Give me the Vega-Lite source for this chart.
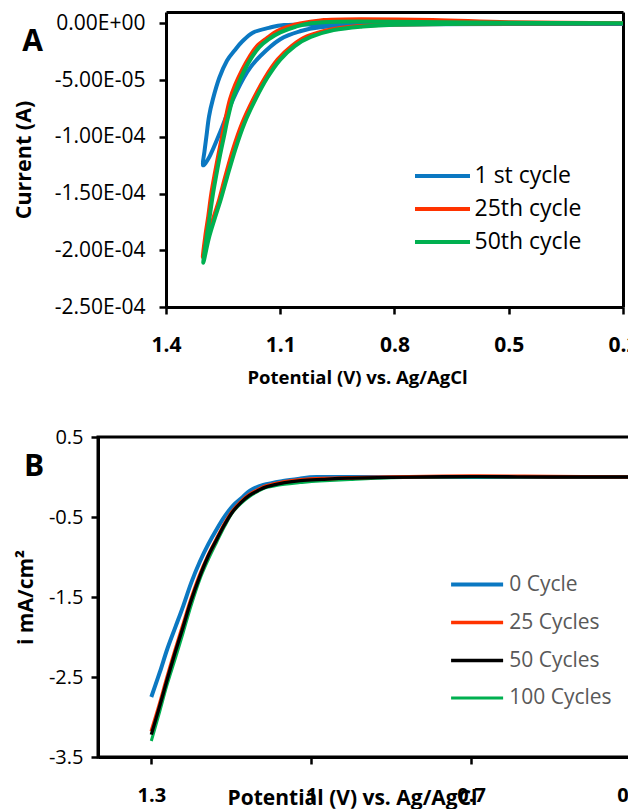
{
  "$schema": "https://vega.github.io/schema/vega-lite/v6.json",
  "background": "white",
  "padding": {"left": 13, "top": 12, "right": 0, "bottom": 0},
  "config": {
    "view": {"stroke": "black", "strokeWidth": 3},
    "axis": {"grid": false, "domainColor": "black", "domainWidth": 3, "tickColor": "black", "tickWidth": 2.5, "tickSize": 7, "labelColor": "black", "titleColor": "black", "labelFont": "Open Sans", "titleFont": "Open Sans", "labelFlush": false, "labelOverlap": false, "labelBound": false},
    "legend": {"labelFont": "Open Sans", "padding": 0}
  },
  "datasets": {
    "A": [
      {"s": "1 st cycle", "k": 1, "v": 0.2, "c": -5e-7},
      {"s": "1 st cycle", "k": 2, "v": 0.5, "c": -5e-7},
      {"s": "1 st cycle", "k": 3, "v": 0.8, "c": -6e-7},
      {"s": "1 st cycle", "k": 4, "v": 1.0, "c": -9e-7},
      {"s": "1 st cycle", "k": 5, "v": 1.09, "c": -1.5e-6},
      {"s": "1 st cycle", "k": 6, "v": 1.13, "c": -4e-6},
      {"s": "1 st cycle", "k": 7, "v": 1.171, "c": -8e-6},
      {"s": "1 st cycle", "k": 8, "v": 1.2, "c": -1.6e-5},
      {"s": "1 st cycle", "k": 9, "v": 1.22, "c": -2.4e-5},
      {"s": "1 st cycle", "k": 10, "v": 1.24, "c": -3.3e-5},
      {"s": "1 st cycle", "k": 11, "v": 1.26, "c": -4.8e-5},
      {"s": "1 st cycle", "k": 12, "v": 1.277, "c": -6.7e-5},
      {"s": "1 st cycle", "k": 13, "v": 1.287, "c": -8.2e-5},
      {"s": "1 st cycle", "k": 14, "v": 1.294, "c": -1.0e-4},
      {"s": "1 st cycle", "k": 15, "v": 1.299, "c": -1.13e-4},
      {"s": "1 st cycle", "k": 16, "v": 1.303, "c": -1.25e-4},
      {"s": "1 st cycle", "k": 17, "v": 1.285, "c": -1.17e-4},
      {"s": "1 st cycle", "k": 18, "v": 1.258, "c": -9.6e-5},
      {"s": "1 st cycle", "k": 19, "v": 1.224, "c": -6.7e-5},
      {"s": "1 st cycle", "k": 20, "v": 1.187, "c": -4.3e-5},
      {"s": "1 st cycle", "k": 21, "v": 1.153, "c": -2.9e-5},
      {"s": "1 st cycle", "k": 22, "v": 1.1, "c": -1.4e-5},
      {"s": "1 st cycle", "k": 23, "v": 1.048, "c": -7e-6},
      {"s": "1 st cycle", "k": 24, "v": 0.995, "c": -3.5e-6},
      {"s": "1 st cycle", "k": 25, "v": 0.9, "c": -1.5e-6},
      {"s": "1 st cycle", "k": 26, "v": 0.7, "c": -8e-7},
      {"s": "1 st cycle", "k": 27, "v": 0.2, "c": -5e-7},
      {"s": "25th cycle", "k": 1, "v": 0.2, "c": 0},
      {"s": "25th cycle", "k": 2, "v": 0.5, "c": 1e-6},
      {"s": "25th cycle", "k": 3, "v": 0.7, "c": 3e-6},
      {"s": "25th cycle", "k": 4, "v": 0.935, "c": 3.5e-6},
      {"s": "25th cycle", "k": 5, "v": 0.995, "c": 2.6e-6},
      {"s": "25th cycle", "k": 6, "v": 1.048, "c": 0},
      {"s": "25th cycle", "k": 7, "v": 1.08, "c": -3e-6},
      {"s": "25th cycle", "k": 8, "v": 1.109, "c": -7e-6},
      {"s": "25th cycle", "k": 9, "v": 1.135, "c": -1.3e-5},
      {"s": "25th cycle", "k": 10, "v": 1.161, "c": -2.0e-5},
      {"s": "25th cycle", "k": 11, "v": 1.18, "c": -2.9e-5},
      {"s": "25th cycle", "k": 12, "v": 1.2, "c": -4.1e-5},
      {"s": "25th cycle", "k": 13, "v": 1.218, "c": -5.4e-5},
      {"s": "25th cycle", "k": 14, "v": 1.232, "c": -6.7e-5},
      {"s": "25th cycle", "k": 15, "v": 1.243, "c": -8.3e-5},
      {"s": "25th cycle", "k": 16, "v": 1.253, "c": -1.0e-4},
      {"s": "25th cycle", "k": 17, "v": 1.262, "c": -1.15e-4},
      {"s": "25th cycle", "k": 18, "v": 1.271, "c": -1.31e-4},
      {"s": "25th cycle", "k": 19, "v": 1.281, "c": -1.5e-4},
      {"s": "25th cycle", "k": 20, "v": 1.289, "c": -1.7e-4},
      {"s": "25th cycle", "k": 21, "v": 1.297, "c": -1.88e-4},
      {"s": "25th cycle", "k": 22, "v": 1.303, "c": -2.06e-4},
      {"s": "25th cycle", "k": 23, "v": 1.29, "c": -1.88e-4},
      {"s": "25th cycle", "k": 24, "v": 1.276, "c": -1.72e-4},
      {"s": "25th cycle", "k": 25, "v": 1.26, "c": -1.55e-4},
      {"s": "25th cycle", "k": 26, "v": 1.245, "c": -1.36e-4},
      {"s": "25th cycle", "k": 27, "v": 1.224, "c": -1.11e-4},
      {"s": "25th cycle", "k": 28, "v": 1.2, "c": -8.8e-5},
      {"s": "25th cycle", "k": 29, "v": 1.171, "c": -6.7e-5},
      {"s": "25th cycle", "k": 30, "v": 1.14, "c": -4.8e-5},
      {"s": "25th cycle", "k": 31, "v": 1.107, "c": -3.2e-5},
      {"s": "25th cycle", "k": 32, "v": 1.07, "c": -2.0e-5},
      {"s": "25th cycle", "k": 33, "v": 1.03, "c": -1.15e-5},
      {"s": "25th cycle", "k": 34, "v": 0.97, "c": -5.5e-6},
      {"s": "25th cycle", "k": 35, "v": 0.9, "c": -2.5e-6},
      {"s": "25th cycle", "k": 36, "v": 0.8, "c": -1e-6},
      {"s": "25th cycle", "k": 37, "v": 0.6, "c": -3e-7},
      {"s": "25th cycle", "k": 38, "v": 0.2, "c": 0},
      {"s": "50th cycle", "k": 1, "v": 0.2, "c": 0},
      {"s": "50th cycle", "k": 2, "v": 0.5, "c": 5e-7},
      {"s": "50th cycle", "k": 3, "v": 0.8, "c": 1.5e-6},
      {"s": "50th cycle", "k": 4, "v": 0.95, "c": 1.5e-6},
      {"s": "50th cycle", "k": 5, "v": 1.02, "c": 0},
      {"s": "50th cycle", "k": 6, "v": 1.06, "c": -3e-6},
      {"s": "50th cycle", "k": 7, "v": 1.1, "c": -8e-6},
      {"s": "50th cycle", "k": 8, "v": 1.13, "c": -1.4e-5},
      {"s": "50th cycle", "k": 9, "v": 1.155, "c": -2.1e-5},
      {"s": "50th cycle", "k": 10, "v": 1.175, "c": -3.0e-5},
      {"s": "50th cycle", "k": 11, "v": 1.195, "c": -4.2e-5},
      {"s": "50th cycle", "k": 12, "v": 1.212, "c": -5.5e-5},
      {"s": "50th cycle", "k": 13, "v": 1.226, "c": -6.8e-5},
      {"s": "50th cycle", "k": 14, "v": 1.238, "c": -8.4e-5},
      {"s": "50th cycle", "k": 15, "v": 1.248, "c": -1.0e-4},
      {"s": "50th cycle", "k": 16, "v": 1.258, "c": -1.16e-4},
      {"s": "50th cycle", "k": 17, "v": 1.267, "c": -1.32e-4},
      {"s": "50th cycle", "k": 18, "v": 1.277, "c": -1.51e-4},
      {"s": "50th cycle", "k": 19, "v": 1.286, "c": -1.72e-4},
      {"s": "50th cycle", "k": 20, "v": 1.294, "c": -1.9e-4},
      {"s": "50th cycle", "k": 21, "v": 1.302, "c": -2.11e-4},
      {"s": "50th cycle", "k": 22, "v": 1.288, "c": -1.9e-4},
      {"s": "50th cycle", "k": 23, "v": 1.272, "c": -1.72e-4},
      {"s": "50th cycle", "k": 24, "v": 1.256, "c": -1.55e-4},
      {"s": "50th cycle", "k": 25, "v": 1.24, "c": -1.36e-4},
      {"s": "50th cycle", "k": 26, "v": 1.218, "c": -1.11e-4},
      {"s": "50th cycle", "k": 27, "v": 1.194, "c": -8.8e-5},
      {"s": "50th cycle", "k": 28, "v": 1.165, "c": -6.7e-5},
      {"s": "50th cycle", "k": 29, "v": 1.134, "c": -4.8e-5},
      {"s": "50th cycle", "k": 30, "v": 1.1, "c": -3.2e-5},
      {"s": "50th cycle", "k": 31, "v": 1.062, "c": -2.0e-5},
      {"s": "50th cycle", "k": 32, "v": 1.02, "c": -1.2e-5},
      {"s": "50th cycle", "k": 33, "v": 0.96, "c": -6e-6},
      {"s": "50th cycle", "k": 34, "v": 0.89, "c": -3e-6},
      {"s": "50th cycle", "k": 35, "v": 0.8, "c": -1.2e-6},
      {"s": "50th cycle", "k": 36, "v": 0.6, "c": -3e-7},
      {"s": "50th cycle", "k": 37, "v": 0.2, "c": 0}
    ],
    "B": [
      {"s": "0 Cycle", "k": 1, "v": 1.3, "c": -2.75},
      {"s": "0 Cycle", "k": 2, "v": 1.284, "c": -2.44},
      {"s": "0 Cycle", "k": 3, "v": 1.27, "c": -2.15},
      {"s": "0 Cycle", "k": 4, "v": 1.255, "c": -1.88},
      {"s": "0 Cycle", "k": 5, "v": 1.24, "c": -1.61},
      {"s": "0 Cycle", "k": 6, "v": 1.225, "c": -1.32},
      {"s": "0 Cycle", "k": 7, "v": 1.209, "c": -1.06},
      {"s": "0 Cycle", "k": 8, "v": 1.193, "c": -0.84},
      {"s": "0 Cycle", "k": 9, "v": 1.177, "c": -0.65},
      {"s": "0 Cycle", "k": 10, "v": 1.162, "c": -0.49},
      {"s": "0 Cycle", "k": 11, "v": 1.147, "c": -0.36},
      {"s": "0 Cycle", "k": 12, "v": 1.13, "c": -0.26},
      {"s": "0 Cycle", "k": 13, "v": 1.115, "c": -0.17},
      {"s": "0 Cycle", "k": 14, "v": 1.09, "c": -0.1},
      {"s": "0 Cycle", "k": 15, "v": 1.053, "c": -0.05},
      {"s": "0 Cycle", "k": 16, "v": 1.02, "c": -0.02},
      {"s": "0 Cycle", "k": 17, "v": 0.99, "c": 0.0},
      {"s": "0 Cycle", "k": 18, "v": 0.9, "c": 0.0},
      {"s": "0 Cycle", "k": 19, "v": 0.7, "c": 0.0},
      {"s": "0 Cycle", "k": 20, "v": 0.4, "c": 0.0},
      {"s": "100 Cycles", "k": 1, "v": 1.3, "c": -3.3},
      {"s": "100 Cycles", "k": 2, "v": 1.285, "c": -2.95},
      {"s": "100 Cycles", "k": 3, "v": 1.271, "c": -2.61},
      {"s": "100 Cycles", "k": 4, "v": 1.255, "c": -2.27},
      {"s": "100 Cycles", "k": 5, "v": 1.24, "c": -1.94},
      {"s": "100 Cycles", "k": 6, "v": 1.225, "c": -1.6},
      {"s": "100 Cycles", "k": 7, "v": 1.209, "c": -1.28},
      {"s": "100 Cycles", "k": 8, "v": 1.193, "c": -1.03},
      {"s": "100 Cycles", "k": 9, "v": 1.177, "c": -0.81},
      {"s": "100 Cycles", "k": 10, "v": 1.162, "c": -0.61},
      {"s": "100 Cycles", "k": 11, "v": 1.147, "c": -0.44},
      {"s": "100 Cycles", "k": 12, "v": 1.13, "c": -0.32},
      {"s": "100 Cycles", "k": 13, "v": 1.115, "c": -0.24},
      {"s": "100 Cycles", "k": 14, "v": 1.1, "c": -0.18},
      {"s": "100 Cycles", "k": 15, "v": 1.083, "c": -0.13},
      {"s": "100 Cycles", "k": 16, "v": 1.05, "c": -0.09},
      {"s": "100 Cycles", "k": 17, "v": 1.021, "c": -0.07},
      {"s": "100 Cycles", "k": 18, "v": 0.984, "c": -0.05},
      {"s": "100 Cycles", "k": 19, "v": 0.927, "c": -0.03},
      {"s": "100 Cycles", "k": 20, "v": 0.85, "c": -0.01},
      {"s": "100 Cycles", "k": 21, "v": 0.75, "c": 0.0},
      {"s": "100 Cycles", "k": 22, "v": 0.6, "c": 0.0},
      {"s": "100 Cycles", "k": 23, "v": 0.4, "c": 0.0},
      {"s": "25 Cycles", "k": 1, "v": 1.3, "c": -3.18},
      {"s": "25 Cycles", "k": 2, "v": 1.285, "c": -2.85},
      {"s": "25 Cycles", "k": 3, "v": 1.271, "c": -2.52},
      {"s": "25 Cycles", "k": 4, "v": 1.256, "c": -2.18},
      {"s": "25 Cycles", "k": 5, "v": 1.241, "c": -1.86},
      {"s": "25 Cycles", "k": 6, "v": 1.226, "c": -1.54},
      {"s": "25 Cycles", "k": 7, "v": 1.21, "c": -1.24},
      {"s": "25 Cycles", "k": 8, "v": 1.194, "c": -0.99},
      {"s": "25 Cycles", "k": 9, "v": 1.178, "c": -0.78},
      {"s": "25 Cycles", "k": 10, "v": 1.163, "c": -0.59},
      {"s": "25 Cycles", "k": 11, "v": 1.148, "c": -0.43},
      {"s": "25 Cycles", "k": 12, "v": 1.132, "c": -0.31},
      {"s": "25 Cycles", "k": 13, "v": 1.116, "c": -0.22},
      {"s": "25 Cycles", "k": 14, "v": 1.1, "c": -0.16},
      {"s": "25 Cycles", "k": 15, "v": 1.083, "c": -0.11},
      {"s": "25 Cycles", "k": 16, "v": 1.05, "c": -0.06},
      {"s": "25 Cycles", "k": 17, "v": 1.02, "c": -0.035},
      {"s": "25 Cycles", "k": 18, "v": 0.98, "c": -0.02},
      {"s": "25 Cycles", "k": 19, "v": 0.93, "c": -0.01},
      {"s": "25 Cycles", "k": 20, "v": 0.85, "c": 0.0},
      {"s": "25 Cycles", "k": 21, "v": 0.7, "c": 0.01},
      {"s": "25 Cycles", "k": 22, "v": 0.55, "c": 0.005},
      {"s": "25 Cycles", "k": 23, "v": 0.4, "c": 0.0},
      {"s": "50 Cycles", "k": 1, "v": 1.3, "c": -3.22},
      {"s": "50 Cycles", "k": 2, "v": 1.285, "c": -2.88},
      {"s": "50 Cycles", "k": 3, "v": 1.271, "c": -2.55},
      {"s": "50 Cycles", "k": 4, "v": 1.256, "c": -2.21},
      {"s": "50 Cycles", "k": 5, "v": 1.241, "c": -1.89},
      {"s": "50 Cycles", "k": 6, "v": 1.226, "c": -1.56},
      {"s": "50 Cycles", "k": 7, "v": 1.21, "c": -1.26},
      {"s": "50 Cycles", "k": 8, "v": 1.194, "c": -1.0},
      {"s": "50 Cycles", "k": 9, "v": 1.178, "c": -0.79},
      {"s": "50 Cycles", "k": 10, "v": 1.163, "c": -0.6},
      {"s": "50 Cycles", "k": 11, "v": 1.148, "c": -0.44},
      {"s": "50 Cycles", "k": 12, "v": 1.132, "c": -0.32},
      {"s": "50 Cycles", "k": 13, "v": 1.116, "c": -0.23},
      {"s": "50 Cycles", "k": 14, "v": 1.1, "c": -0.17},
      {"s": "50 Cycles", "k": 15, "v": 1.083, "c": -0.12},
      {"s": "50 Cycles", "k": 16, "v": 1.05, "c": -0.07},
      {"s": "50 Cycles", "k": 17, "v": 1.02, "c": -0.045},
      {"s": "50 Cycles", "k": 18, "v": 0.98, "c": -0.03},
      {"s": "50 Cycles", "k": 19, "v": 0.93, "c": -0.015},
      {"s": "50 Cycles", "k": 20, "v": 0.85, "c": -0.005},
      {"s": "50 Cycles", "k": 21, "v": 0.7, "c": 0.005},
      {"s": "50 Cycles", "k": 22, "v": 0.55, "c": 0.0},
      {"s": "50 Cycles", "k": 23, "v": 0.4, "c": 0.0}
    ]
  },
  "spacing": 38,
  "resolve": {"scale": {"color": "independent", "strokeWidth": "independent"}, "legend": {"color": "independent", "strokeWidth": "independent"}},
  "vconcat": [
    {
      "width": 525,
      "height": 295,
      "view": {"stroke": null},
      "resolve": {"axis": {"x": "independent", "y": "independent"}},
      "layer": [
        {
          "data": {"name": "A"},
          "mark": {"type": "line", "interpolate": "cardinal", "clip": true},
          "encoding": {
            "x": {"field": "v", "type": "quantitative", "scale": {"domain": [0.2, 1.4], "range": [68, 525], "reverse": true, "nice": false, "zero": false},
              "axis": {"values": [1.4, 1.1, 0.8, 0.5, 0.2], "format": ".1f", "labelFontSize": 21, "labelFontWeight": "bold", "labelPadding": 20, "title": "Potential (V) vs. Ag/AgCl", "titleFontSize": 18.5, "titleFontWeight": "bold", "titlePadding": 13, "titleX": 259}},
            "y": {"field": "c", "type": "quantitative", "scale": {"domain": [-0.00025, 0.00001], "nice": false, "zero": false},
              "axis": {"offset": -68, "values": [0, -0.00005, -0.0001, -0.00015, -0.0002, -0.00025], "labelExpr": "replace(replace(replace(format(datum.value, '.2e'), '−', '-'), 'e-', 'E-0'), 'e+', 'E+0')", "labelFontSize": 21, "labelPadding": 14, "title": "Current (A)", "titleFontSize": 21.5, "titleFontWeight": "bold", "titlePadding": 19}},
            "color": {"field": "s", "type": "nominal", "scale": {"domain": ["1 st cycle", "25th cycle", "50th cycle"], "range": ["#0B78C2", "#FF3300", "#00B050"]},
              "legend": {"title": null, "orient": "none", "legendX": 331.5, "legendY": 151, "symbolType": "M-2.5,0H2.5", "symbolSize": 484, "symbolStrokeWidth": 4.5, "labelOffset": 19, "labelFontSize": 23, "labelColor": "black", "rowPadding": 8}},
            "strokeWidth": {"field": "s", "type": "nominal", "scale": {"domain": ["1 st cycle", "25th cycle", "50th cycle"], "range": [4, 4, 5.5]}, "legend": null},
            "order": {"field": "k", "type": "quantitative"}
          }
        },
        {
          "data": {"values": [{}]},
          "mark": {"type": "text", "fontSize": 30, "fontWeight": "bold", "font": "Open Sans", "color": "black", "align": "center", "baseline": "middle"},
          "encoding": {
            "x": {"datum": 1.75, "type": "quantitative", "axis": {"orient": "top", "labels": false, "ticks": false, "title": null, "domain": true}},
            "y": {"datum": -0.000016, "type": "quantitative", "axis": {"orient": "right", "labels": false, "ticks": false, "title": null, "domain": true}},
            "text": {"value": "A"}
          }
        }
      ]
    },
    {
      "width": 533,
      "height": 320,
      "layer": [
        {
          "data": {"name": "B"},
          "mark": {"type": "line", "interpolate": "cardinal", "clip": true},
          "encoding": {
            "x": {"field": "v", "type": "quantitative", "scale": {"domain": [0.4, 1.4], "reverse": true, "nice": false, "zero": false},
              "axis": {"values": [1.3, 1.0, 0.7, 0.4], "format": "~g", "labelFontSize": 20, "labelFontWeight": "bold", "labelPadding": 21, "title": "Potential (V) vs. Ag/AgCl", "titleFontSize": 21, "titleFontWeight": "bold", "titlePadding": -18, "titleX": 254}},
            "y": {"field": "c", "type": "quantitative", "scale": {"domain": [-3.5, 0.5], "nice": false, "zero": false},
              "axis": {"values": [0.5, -0.5, -1.5, -2.5, -3.5], "labelExpr": "replace(format(datum.value, '.1f'), '−', '-')", "labelFontSize": 20, "labelPadding": 8, "title": "i mA/cm²", "titleFontSize": 21, "titleFontWeight": "bold", "titlePadding": 12}},
            "color": {"field": "s", "type": "nominal", "scale": {"domain": ["0 Cycle", "25 Cycles", "50 Cycles", "100 Cycles"], "range": ["#0B78C2", "#FF3300", "#000000", "#00B050"]},
              "legend": {"title": null, "orient": "none", "legendX": 366.6, "legendY": 135, "symbolType": "M-2.5,0H2.5", "symbolSize": 433, "symbolStrokeWidth": 4.5, "labelOffset": 19.6, "labelFontSize": 21, "labelColor": "#595959", "rowPadding": 15}},
            "strokeWidth": {"field": "s", "type": "nominal", "scale": {"domain": ["0 Cycle", "25 Cycles", "50 Cycles", "100 Cycles"], "range": [4, 3, 2, 5.5]}, "legend": null},
            "order": {"field": "k", "type": "quantitative"}
          }
        },
        {
          "data": {"values": [{}]},
          "mark": {"type": "text", "fontSize": 30, "fontWeight": "bold", "font": "Open Sans", "color": "black", "align": "center", "baseline": "middle"},
          "encoding": {"x": {"datum": 1.52}, "y": {"datum": 0.125}, "text": {"value": "B"}}
        }
      ]
    }
  ]
}
